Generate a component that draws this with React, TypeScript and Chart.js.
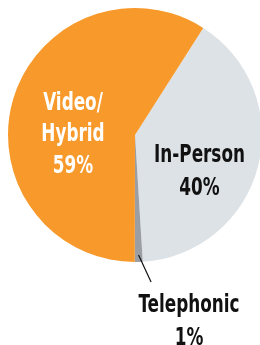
import React, { useEffect, useRef } from "react";
import { Chart, registerables } from "chart.js";

Chart.register(...registerables);

const categories = ["In-Person", "Telephonic", "Video/Hybrid"];
const values = [40, 1, 59];
const labelLines = [["In-Person", "40%"], ["Telephonic", "1%"], ["Video/", "Hybrid", "59%"]];
const sliceColors = ["#DDE2E6", "#9B9EA3", "#F7992B"];
const textColors = ["#111111", "#111111", "#FFFFFF"];

const FONT = "bold 24px 'DejaVu Sans Condensed', 'DejaVu Sans', sans-serif";
const SQUEEZE = 0.78;

// label placement relative to pie centre (dx, first baseline dy, line step)
const labelPlacement = [
  { dx: 64.5, dy: 27, step: 33 },
  { dx: 54, dy: 176.5, step: 33 },
  { dx: -62, dy: -25, step: 31.3 },
];

const labelPlugin = {
  id: "sliceLabels",
  afterDatasetsDraw(chart: any) {
    const meta = chart.getDatasetMeta(0);
    const arcs = meta.data;
    if (!arcs.length) return;
    const ctx = chart.ctx;
    const cx = arcs[0].x;
    const cy = arcs[0].y;
    const r = arcs[0].outerRadius;
    ctx.save();
    // leader line for the small slice
    const tele = arcs[1];
    const mid = (tele.startAngle + tele.endAngle) / 2;
    const sx = cx + Math.cos(mid) * r * 0.945;
    const sy = cy + Math.sin(mid) * r * 0.945;
    ctx.beginPath();
    ctx.moveTo(sx, sy);
    ctx.lineTo(sx + 12.5, sy + 27);
    ctx.strokeStyle = "#111111";
    ctx.lineWidth = 1.2;
    ctx.stroke();

    ctx.font = FONT;
    ctx.textAlign = "center";
    ctx.textBaseline = "alphabetic";
    labelLines.forEach((lines, i) => {
      const p = labelPlacement[i];
      ctx.fillStyle = textColors[i];
      lines.forEach((t, j) => {
        ctx.save();
        ctx.translate(cx + p.dx, cy + p.dy + j * p.step);
        ctx.scale(SQUEEZE, 1);
        ctx.fillText(t, 0, 0);
        ctx.restore();
      });
    });
    ctx.restore();
  },
};

export default function App() {
  const ref = useRef<HTMLCanvasElement | null>(null);
  useEffect(() => {
    if (!ref.current) return;
    const chart = new Chart(ref.current, {
      type: "pie",
      data: {
        labels: categories,
        datasets: [
          {
            data: values,
            backgroundColor: sliceColors,
            borderWidth: 0,
          },
        ],
      },
      options: {
        responsive: false,
        animation: false,
        devicePixelRatio: 1,
        rotation: 32.5,
        layout: { padding: { left: 8, top: 8, right: 10, bottom: 83 } },
        plugins: {
          legend: { display: false },
          tooltip: { enabled: false },
        },
      },
      plugins: [labelPlugin],
    });
    return () => chart.destroy();
  }, []);
  return (
    <div
      style={{
        position: "fixed",
        left: 0,
        top: 0,
        width: 260,
        height: 345,
        overflow: "hidden",
        background: "#ffffff",
      }}
    >
      <canvas ref={ref} width={272} height={345} style={{ display: "block" }} />
    </div>
  );
}
